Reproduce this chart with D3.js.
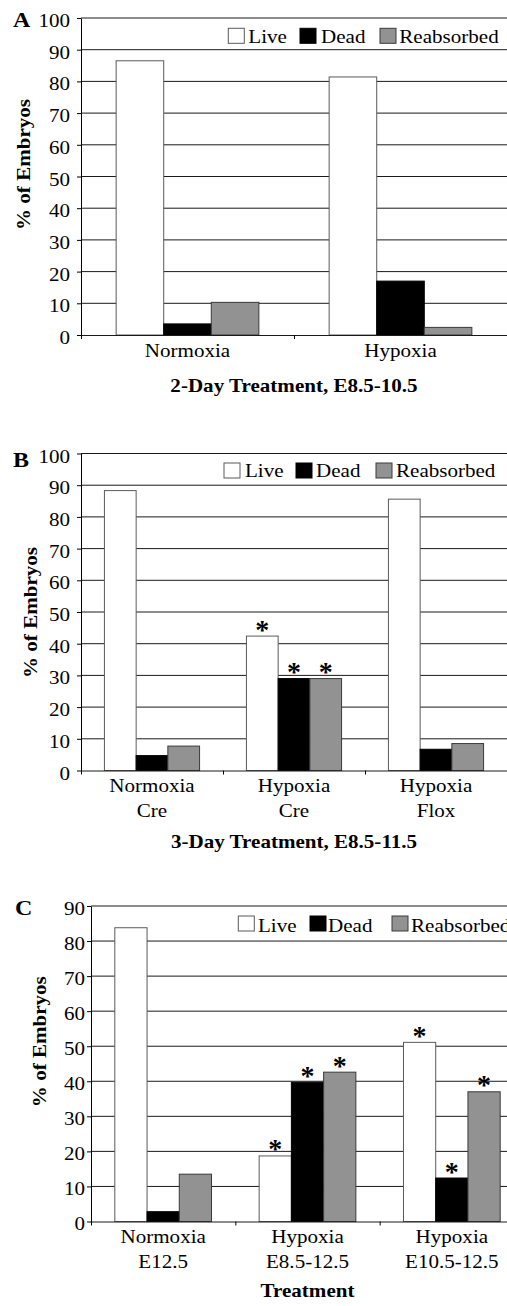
<!DOCTYPE html>
<html><head><meta charset="utf-8">
<script src="https://cdn.jsdelivr.net/npm/d3@7"></script>
<style>html,body{margin:0;padding:0;background:#fff;overflow:hidden}</style>
</head><body><div id="chart"></div>
<script>
// ---------- data ----------
const seriesNames = ["Live", "Dead", "Reabsorbed"];

const aCategories = [["Normoxia"], ["Hypoxia"]];
const aLive = [86.5, 81.4];
const aDead = [3.5, 17.0];
const aReabsorbed = [10.3, 2.4];
const aSignificant = [[0, 0, 0], [0, 0, 0]];
const aTicks = [0, 10, 20, 30, 40, 50, 60, 70, 80, 90, 100];
const aTitle = "2-Day Treatment, E8.5-10.5";

const bCategories = [["Normoxia", "Cre"], ["Hypoxia", "Cre"], ["Hypoxia", "Flox"]];
const bLive = [88.3, 42.4, 85.6];
const bDead = [4.7, 29.0, 6.7];
const bReabsorbed = [7.7, 29.0, 8.5];
const bSignificant = [[0, 0, 0], [1, 1, 1], [0, 0, 0]];
const bTicks = [0, 10, 20, 30, 40, 50, 60, 70, 80, 90, 100];
const bTitle = "3-Day Treatment, E8.5-11.5";

const cCategories = [["Normoxia", "E12.5"], ["Hypoxia", "E8.5-12.5"], ["Hypoxia", "E10.5-12.5"]];
const cLive = [83.8, 18.7, 51.1];
const cDead = [2.8, 39.7, 12.4];
const cReabsorbed = [13.5, 42.6, 37.0];
const cSignificant = [[0, 0, 0], [1, 1, 1], [1, 1, 1]];
const cTicks = [0, 10, 20, 30, 40, 50, 60, 70, 80, 90];
const cTitle = "Treatment";

const yAxisTitle = "% of Embryos";

// ---------- styles ----------
const FILL = {Live: "#ffffff", Dead: "#000000", Reabsorbed: "#929292"};
const STROKE = {Live: "#5a5a5a", Dead: "#000000", Reabsorbed: "#3a3a3a"};
const FONT = "'Liberation Serif','Times New Roman',Times,serif";
const SX = 1.17;

const W = 507, H = 1306;
const svg = d3.select("#chart").append("svg")
  .attr("width", W).attr("height", H).attr("viewBox", `0 0 ${W} ${H}`)
  .style("display", "block").style("overflow", "hidden");

function label(g, x, y, s, o = {}) {
  return g.append("text")
    .attr("transform", `translate(${x},${y})${o.rotate ? ` rotate(${o.rotate})` : ""} scale(${o.sx || SX},1)`)
    .attr("text-anchor", o.anchor || "start")
    .attr("font-family", FONT)
    .attr("font-size", o.size || 18)
    .attr("font-weight", o.bold ? "bold" : "normal")
    .attr("fill", "#000")
    .text(s);
}

const panels = [
  {letter: "A", cats: aCategories, values: [aLive, aDead, aReabsorbed], sig: aSignificant, ticks: aTicks, title: aTitle,
   left: 81, right: 507, top: 18, bottom: 335, gap: 11, dy: 8.5, letterPos: [13, 27.3], yTitle: [29.5, 164.5],
   catBase: [357], titleY: 392, legBox: [228.3, 300, 380], legText: [248.3, 321, 399.3], legY: 28.3, legBase: 43},
  {letter: "B", cats: bCategories, values: [bLive, bDead, bReabsorbed], sig: bSignificant, ticks: bTicks, title: bTitle,
   left: 81, right: 507, top: 453.5, bottom: 770.5, gap: 11, dy: 8.5, letterPos: [13, 466.7], yTitle: [36.5, 612.5],
   catBase: [791.7, 816.7], titleY: 848.3, legBox: [224, 296, 376], legText: [245, 316, 396], legY: 463, legBase: 477},
  {letter: "C", cats: cCategories, values: [cLive, cDead, cReabsorbed], sig: cSignificant, ticks: cTicks, title: cTitle,
   left: 91, right: 524, top: 906, bottom: 1221.5, gap: 6, dy: 8, letterPos: [15, 915], yTitle: [45.5, 1041.7],
   catBase: [1243.3, 1268.3], titleY: 1296.7, legBox: [238.3, 310, 392], legText: [258, 328, 411], legY: 916, legBase: 931.5}
];

panels.forEach(p => {
  const g = svg.append("g");
  const n = p.cats.length;
  const max = p.ticks[p.ticks.length - 1];
  const y = d3.scaleLinear().domain([0, max]).range([p.bottom, p.top]);
  const x0 = d3.scaleBand().domain(d3.range(n)).range([p.left, p.right]).padding(0);
  const bw = x0.bandwidth();
  const x1 = d3.scaleBand().domain(seriesNames).range([bw * 0.165, bw * 0.835]).padding(0);

  // gridlines
  g.append("g").selectAll("line").data(p.ticks.filter(t => t > 0)).join("line")
    .attr("x1", p.left).attr("x2", p.right)
    .attr("y1", d => y(d)).attr("y2", d => y(d))
    .attr("stroke", "#1a1a1a").attr("stroke-width", 1);

  // bars
  const rows = p.cats.map((c, i) => seriesNames.map((s, j) => ({i, s, j, v: p.values[j][i], sig: p.sig[i][j]})));
  const grp = g.append("g").selectAll("g").data(rows).join("g")
    .attr("transform", (d, i) => `translate(${x0(i)},0)`);
  grp.selectAll("rect").data(d => d).join("rect")
    .attr("x", d => x1(d.s)).attr("width", x1.bandwidth())
    .attr("y", d => y(d.v)).attr("height", d => y(0) - y(d.v))
    .attr("fill", d => FILL[d.s]).attr("stroke", d => STROKE[d.s]).attr("stroke-width", 1);
  grp.each(function(d) {
    const gg = d3.select(this);
    d.filter(e => e.sig).forEach(e => {
      label(gg, x1(e.s) + x1.bandwidth() / 2, y(e.v) + 2.5, "*", {anchor: "middle", size: 28, sx: 1, bold: true});
    });
  });

  // y axis
  const ya = g.append("g").attr("transform", `translate(${p.left},0)`)
    .call(d3.axisLeft(y).tickValues(p.ticks).tickSize(4).tickSizeOuter(0));
  ya.select(".domain").attr("stroke", "#000");
  ya.selectAll(".tick line").attr("stroke", "#000");
  ya.selectAll(".tick text")
    .attr("x", 0).attr("dy", null)
    .attr("transform", `translate(${-p.gap},${p.dy}) scale(${SX},1)`)
    .attr("font-family", FONT).attr("font-size", 18).attr("fill", "#000");

  // x axis
  const xl = d3.scaleLinear().domain([0, n]).range([p.left, p.right]);
  const xa = g.append("g").attr("transform", `translate(0,${y(0)})`)
    .call(d3.axisBottom(xl).tickValues(d3.range(n + 1)).tickSize(4).tickSizeOuter(0).tickFormat(""));
  xa.select(".domain").attr("stroke", "#1a1a1a");
  xa.selectAll(".tick line").attr("stroke", "#000");

  // category labels
  p.cats.forEach((c, i) => {
    c.forEach((line, k) => label(g, x0(i) + bw / 2, p.catBase[k], line, {anchor: "middle"}));
  });

  // axis titles
  label(g, (p.left + p.right) / 2, p.titleY, p.title, {anchor: "middle", bold: true});
  label(g, p.yTitle[0], p.yTitle[1], yAxisTitle, {anchor: "middle", bold: true, rotate: -90});
  label(g, p.letterPos[0], p.letterPos[1], p.letter, {bold: true, size: 20, sx: 1.2});

  // legend
  seriesNames.forEach((s, j) => {
    g.append("rect").attr("x", p.legBox[j]).attr("y", p.legY).attr("width", 16).attr("height", 15)
      .attr("fill", FILL[s]).attr("stroke", STROKE[s]).attr("stroke-width", 1);
    label(g, p.legText[j], p.legBase, s);
  });
});
</script></body></html>
